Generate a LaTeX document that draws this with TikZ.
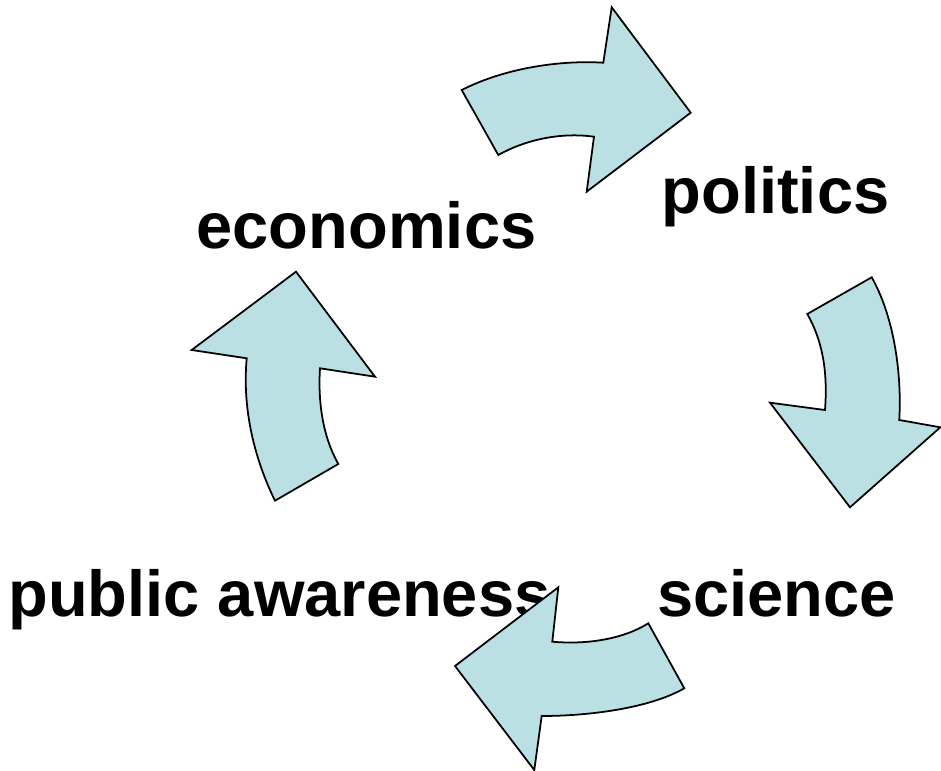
\documentclass[tikz,border=0pt]{standalone}
\usepackage{fontspec}
\setmainfont{Liberation Sans}
\usepackage{tikz}
\usetikzlibrary{positioning,calc}
\definecolor{arrowfill}{RGB}{187,224,227}

\begin{document}
\begin{tikzpicture}[x=0.02cm,y=-0.02cm,
    topic/.style={anchor=base,inner sep=0pt,font=\fontsize{37}{44}\selectfont\bfseries},
    blockarrow/.style={draw=black,fill=arrowfill,line width=1pt,line join=miter}]
    \useasboundingbox (0,0) rectangle (941,771);

    \node [topic] (econ) at (366.5,248) {economics};
    \node [topic] (pol) at (775.5,213) {politics};
    \node [topic] (sci) at (776.5,616) {science};
    \node [topic] (pub) at (279.5,616) {public awareness};

    % economics to politics
    \draw [blockarrow] (461.7,90) .. controls (505,68) and (560,60) .. (603.3,62.7)
        -- (611.7,7.3) -- (690.7,112.7) -- (586.7,191.7) -- (594,136.7)
        .. controls (560,132) and (525,140) .. (498.3,155) -- cycle;

    % politics to science
    \draw [blockarrow] (807.3,314) -- (871.7,277.3)
        .. controls (893,315) and (902,370) .. (899.3,420)
        -- (940.3,427.3) -- (850,507.3) -- (770,402.7) -- (825,410)
        .. controls (828,370) and (822,340) .. cycle;

    % science to public awareness
    \draw [blockarrow] (648.3,623.3) -- (684.3,688.3)
        .. controls (650,708) and (590,716) .. (541.7,716)
        -- (534.3,770) -- (455,666) -- (558.3,587.3) -- (552.3,641.7)
        .. controls (590,645) and (625,638) .. cycle;

    % public awareness to economics
    \draw [blockarrow] (275,500.7) -- (338.3,464)
        .. controls (322,435) and (318,400) .. (320,368.3)
        -- (375,376.7) -- (296,271.7) -- (191.7,350) -- (246.7,358.3)
        .. controls (242,410) and (255,460) .. cycle;

\end{tikzpicture}
\end{document}
